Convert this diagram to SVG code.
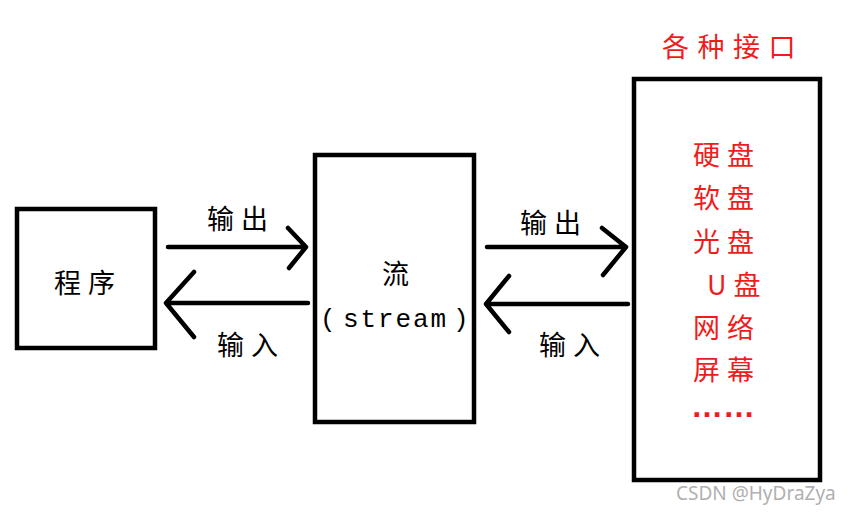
<svg xmlns="http://www.w3.org/2000/svg" width="851" height="514" viewBox="0 0 851 514">
<style>
.box{fill:none;stroke:#000;stroke-width:4.5}
.ln{fill:none;stroke:#000;stroke-width:4.5;stroke-linecap:round;stroke-linejoin:round}
.t{font-family:"Noto Sans CJK SC",sans-serif;font-size:27px;fill:#000;letter-spacing:7px}
.r{font-family:"Noto Sans CJK SC",sans-serif;font-size:27px;fill:#ee1c1c;letter-spacing:7px}
.m{font-family:"Liberation Mono","Noto Sans CJK SC",monospace;font-size:26px;fill:#000;letter-spacing:1.9px}
</style>
<rect width="851" height="514" fill="#fff"/>
<g id="program">
<rect class="box" x="17" y="209" width="138" height="139"/>
<text class="t" x="54" y="293">程序</text>
</g>
<g id="stream">
<rect class="box" x="315" y="155" width="159" height="267"/>
<text class="t" x="382" y="284">流</text>
<text class="m" y="327"><tspan x="320">(</tspan><tspan x="343">stream</tspan><tspan x="453">)</tspan></text>
</g>
<g id="interfaces">
<text class="r" x="662" y="57" style="letter-spacing:8.5px">各种接口</text>
<rect class="box" x="634" y="79" width="186" height="401"/>
<text class="r" x="693" y="165">硬盘</text>
<text class="r" x="693" y="208">软盘</text>
<text class="r" x="693" y="252">光盘</text>
<text class="r" x="707" y="295">U盘</text>
<text class="r" x="693" y="338">网络</text>
<text class="r" x="693" y="380">屏幕</text>
<text x="691" y="417" style="font-family:'Liberation Sans',sans-serif;font-size:32px;font-weight:bold;fill:#ee1c1c">……</text>
</g>
<g id="connectors">
<path class="ln" d="M168,247 H305 M288,228 L306,247 L289,268"/>
<path class="ln" d="M308,303 H166 M194,272 L166,303 L194,337"/>
<text class="t" x="207" y="229">输出</text>
<text class="t" x="217" y="355">输入</text>
<path class="ln" d="M487,247 H625 M602,228 L626,247 L603,275"/>
<path class="ln" d="M628,304 H486 M509,276 L486,304 L509,332"/>
<text class="t" x="520" y="233">输出</text>
<text class="t" x="539" y="355">输入</text>
</g>
<text x="676" y="500" style="font-family:'Noto Sans',sans-serif;font-size:19px;fill:#b0b0b0">CSDN @HyDraZya</text>
</svg>
